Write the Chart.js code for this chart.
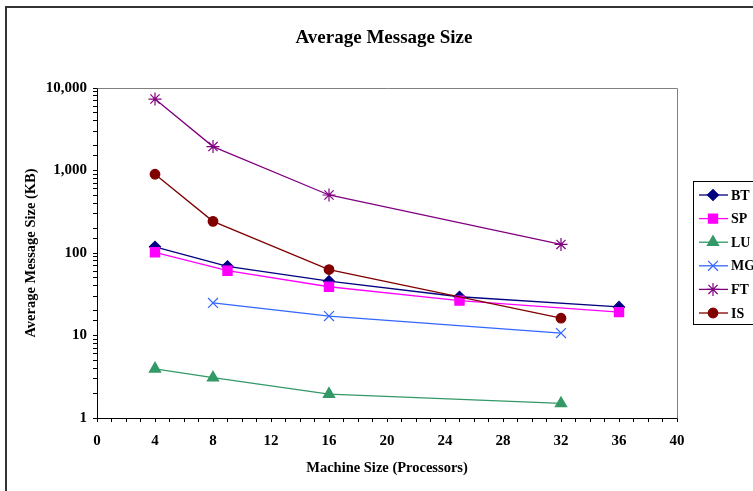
<!DOCTYPE html>
<html>
<head>
<meta charset="utf-8">
<script src="https://cdn.jsdelivr.net/npm/chart.js@4/dist/chart.umd.min.js"></script>
<style>
  html, body { margin: 0; padding: 0; background: #fff; }
  #wrap { width: 753px; height: 491px; position: relative; }
</style>
</head>
<body>
<div id="wrap"><canvas id="c" width="753" height="491"></canvas></div>
<script>
// ---- data ----
const seriesNames = ['BT', 'SP', 'LU', 'MG', 'FT', 'IS'];
const btX = [4, 9, 16, 25, 36];
const btY = [119, 69, 45.5, 29.5, 22.2];
const spX = [4, 9, 16, 25, 36];
const spY = [102, 61, 39, 26.5, 19.2];
const luX = [4, 8, 16, 32];
const luY = [3.95, 3.08, 1.95, 1.5];
const mgX = [8, 16, 32];
const mgY = [24.8, 17.2, 10.7];
const ftX = [4, 8, 16, 32];
const ftY = [7350, 1950, 505, 127];
const isX = [4, 8, 16, 32];
const isY = [900, 242, 63, 16.2];
const xTickLabels = ['0', '4', '8', '12', '16', '20', '24', '28', '32', '36', '40'];
const yTickLabels = ['1', '10', '100', '1,000', '10,000'];

const FONT = "'Liberation Serif', 'Times New Roman', serif";

function pts(xs, ys) { return xs.map((x, i) => ({ x: x, y: ys[i] })); }

const styles = [
  { color: '#000080', style: 'rectRot', r: 5.5 },
  { color: '#FF00FF', style: 'rect', r: 6.5 },
  { color: '#339966', style: 'triangle', r: 6.5 },
  { color: '#3366FF', style: 'crossRot', r: 7 },
  { color: '#800080', style: 'star', r: 6.5 },
  { color: '#800000', style: 'circle', r: 4.8 }
];
const allData = [pts(btX, btY), pts(spX, spY), pts(luX, luY), pts(mgX, mgY), pts(ftX, ftY), pts(isX, isY)];

const datasets = seriesNames.map((n, i) => ({
  label: n,
  data: allData[i],
  borderColor: styles[i].color,
  backgroundColor: styles[i].color,
  borderWidth: 1.3,
  pointStyle: styles[i].style,
  pointRadius: styles[i].r,
  pointHoverRadius: styles[i].r,
  pointBorderWidth: 1.2,
  pointBorderColor: styles[i].color,
  pointBackgroundColor: styles[i].color,
  tension: 0,
  order: -i
}));

const framePlugin = {
  id: 'frame',
  beforeDraw(chart) {
    const ctx = chart.ctx;
    ctx.save();
    ctx.fillStyle = '#fff';
    ctx.fillRect(0, 0, chart.width, chart.height);
    ctx.strokeStyle = '#333';
    ctx.lineWidth = 2;
    ctx.beginPath();
    ctx.moveTo(6, chart.height + 2);
    ctx.lineTo(6, 7);
    ctx.lineTo(chart.width + 2, 7);
    ctx.stroke();
    ctx.restore();
  },
  beforeDatasetsDraw(chart) {
    const a = chart.chartArea;
    const ctx = chart.ctx;
    ctx.save();
    ctx.strokeStyle = '#808080';
    ctx.lineWidth = 1;
    ctx.beginPath();
    ctx.moveTo(Math.round(a.left) + 0.5, Math.round(a.top) + 0.5);
    ctx.lineTo(Math.round(a.right) + 0.5, Math.round(a.top) + 0.5);
    ctx.lineTo(Math.round(a.right) + 0.5, Math.round(a.bottom) + 0.5);
    ctx.stroke();
    ctx.restore();
  }
};

const legendPlugin = {
  id: 'boxLegend',
  afterDraw(chart) {
    const ctx = chart.ctx;
    ctx.save();
    ctx.strokeStyle = '#000';
    ctx.lineWidth = 1;
    ctx.strokeRect(693.5, 181.5, 80, 143);
    chart.data.datasets.forEach((ds, i) => {
      const y = 195 + i * 23.6;
      ctx.strokeStyle = ds.borderColor;
      ctx.lineWidth = 1.3;
      ctx.beginPath();
      ctx.moveTo(699, y);
      ctx.lineTo(728, y);
      ctx.stroke();
      ctx.fillStyle = ds.backgroundColor;
      ctx.strokeStyle = ds.borderColor;
      ctx.lineWidth = 1.2;
      Chart.helpers.drawPoint(ctx, { pointStyle: ds.pointStyle, radius: ds.pointRadius, rotation: 0, borderWidth: 1.2 }, 713, y);
      ctx.fillStyle = '#000';
      ctx.font = 'bold 14px ' + FONT;
      ctx.textAlign = 'left';
      ctx.textBaseline = 'middle';
      ctx.fillText(ds.label, 731, y + 1);
    });
    ctx.restore();
  }
};

new Chart(document.getElementById('c'), {
  type: 'line',
  data: { datasets: datasets },
  plugins: [framePlugin, legendPlugin],
  options: {
    responsive: false,
    animation: false,
    layout: { padding: { left: 15, right: 0, top: 0, bottom: 0 } },
    plugins: {
      legend: { display: false },
      tooltip: { enabled: false },
      title: {
        display: true,
        text: 'Average Message Size',
        color: '#000',
        font: { family: FONT, size: 19, weight: 'bold' },
        padding: { top: 26.6, bottom: 38.6 }
      }
    },
    scales: {
      x: {
        type: 'linear',
        position: 'bottom',
        min: 0,
        max: 40,
        afterFit(s) { s.height = 73; },
        ticks: {
          stepSize: 1,
          autoSkip: false,
          maxRotation: 0,
          color: '#000',
          padding: 10,
          font: { family: FONT, size: 15, weight: 'bold' },
          callback: (v) => (v % 4 === 0 ? xTickLabels[v / 4] : '')
        },
        grid: { display: true, drawOnChartArea: false, drawTicks: true, tickLength: 4, color: '#000' },
        border: { display: true, color: '#000', width: 1 },
        title: {
          display: true,
          text: 'Machine Size (Processors)',
          color: '#000',
          font: { family: FONT, size: 14.5, weight: 'bold' },
          padding: { top: 0, bottom: 14.3 }
        }
      },
      y: {
        type: 'logarithmic',
        position: 'left',
        min: 1,
        max: 10000,
        afterFit(s) { s.width = 82; },
        ticks: {
          autoSkip: false,
          color: '#000',
          padding: 6,
          font: { family: FONT, size: 15, weight: 'bold' },
          callback: (v) => {
            const e = Math.log10(v);
            if (Math.abs(e - Math.round(e)) < 1e-9) return yTickLabels[Math.round(e)];
            return '';
          }
        },
        grid: { display: true, drawOnChartArea: false, drawTicks: true, tickLength: 4, color: '#000' },
        border: { display: true, color: '#000', width: 1 },
        title: {
          display: true,
          text: 'Average Message Size (KB)',
          color: '#000',
          font: { family: FONT, size: 14.5, weight: 'bold' },
          padding: { top: 7.3, bottom: 0 }
        }
      },
      pad: {
        type: 'linear',
        position: 'right',
        display: true,
        afterFit(s) { s.width = 76; },
        ticks: { display: false },
        grid: { display: false, drawTicks: false },
        border: { display: false }
      }
    }
  }
});
</script>
</body>
</html>
